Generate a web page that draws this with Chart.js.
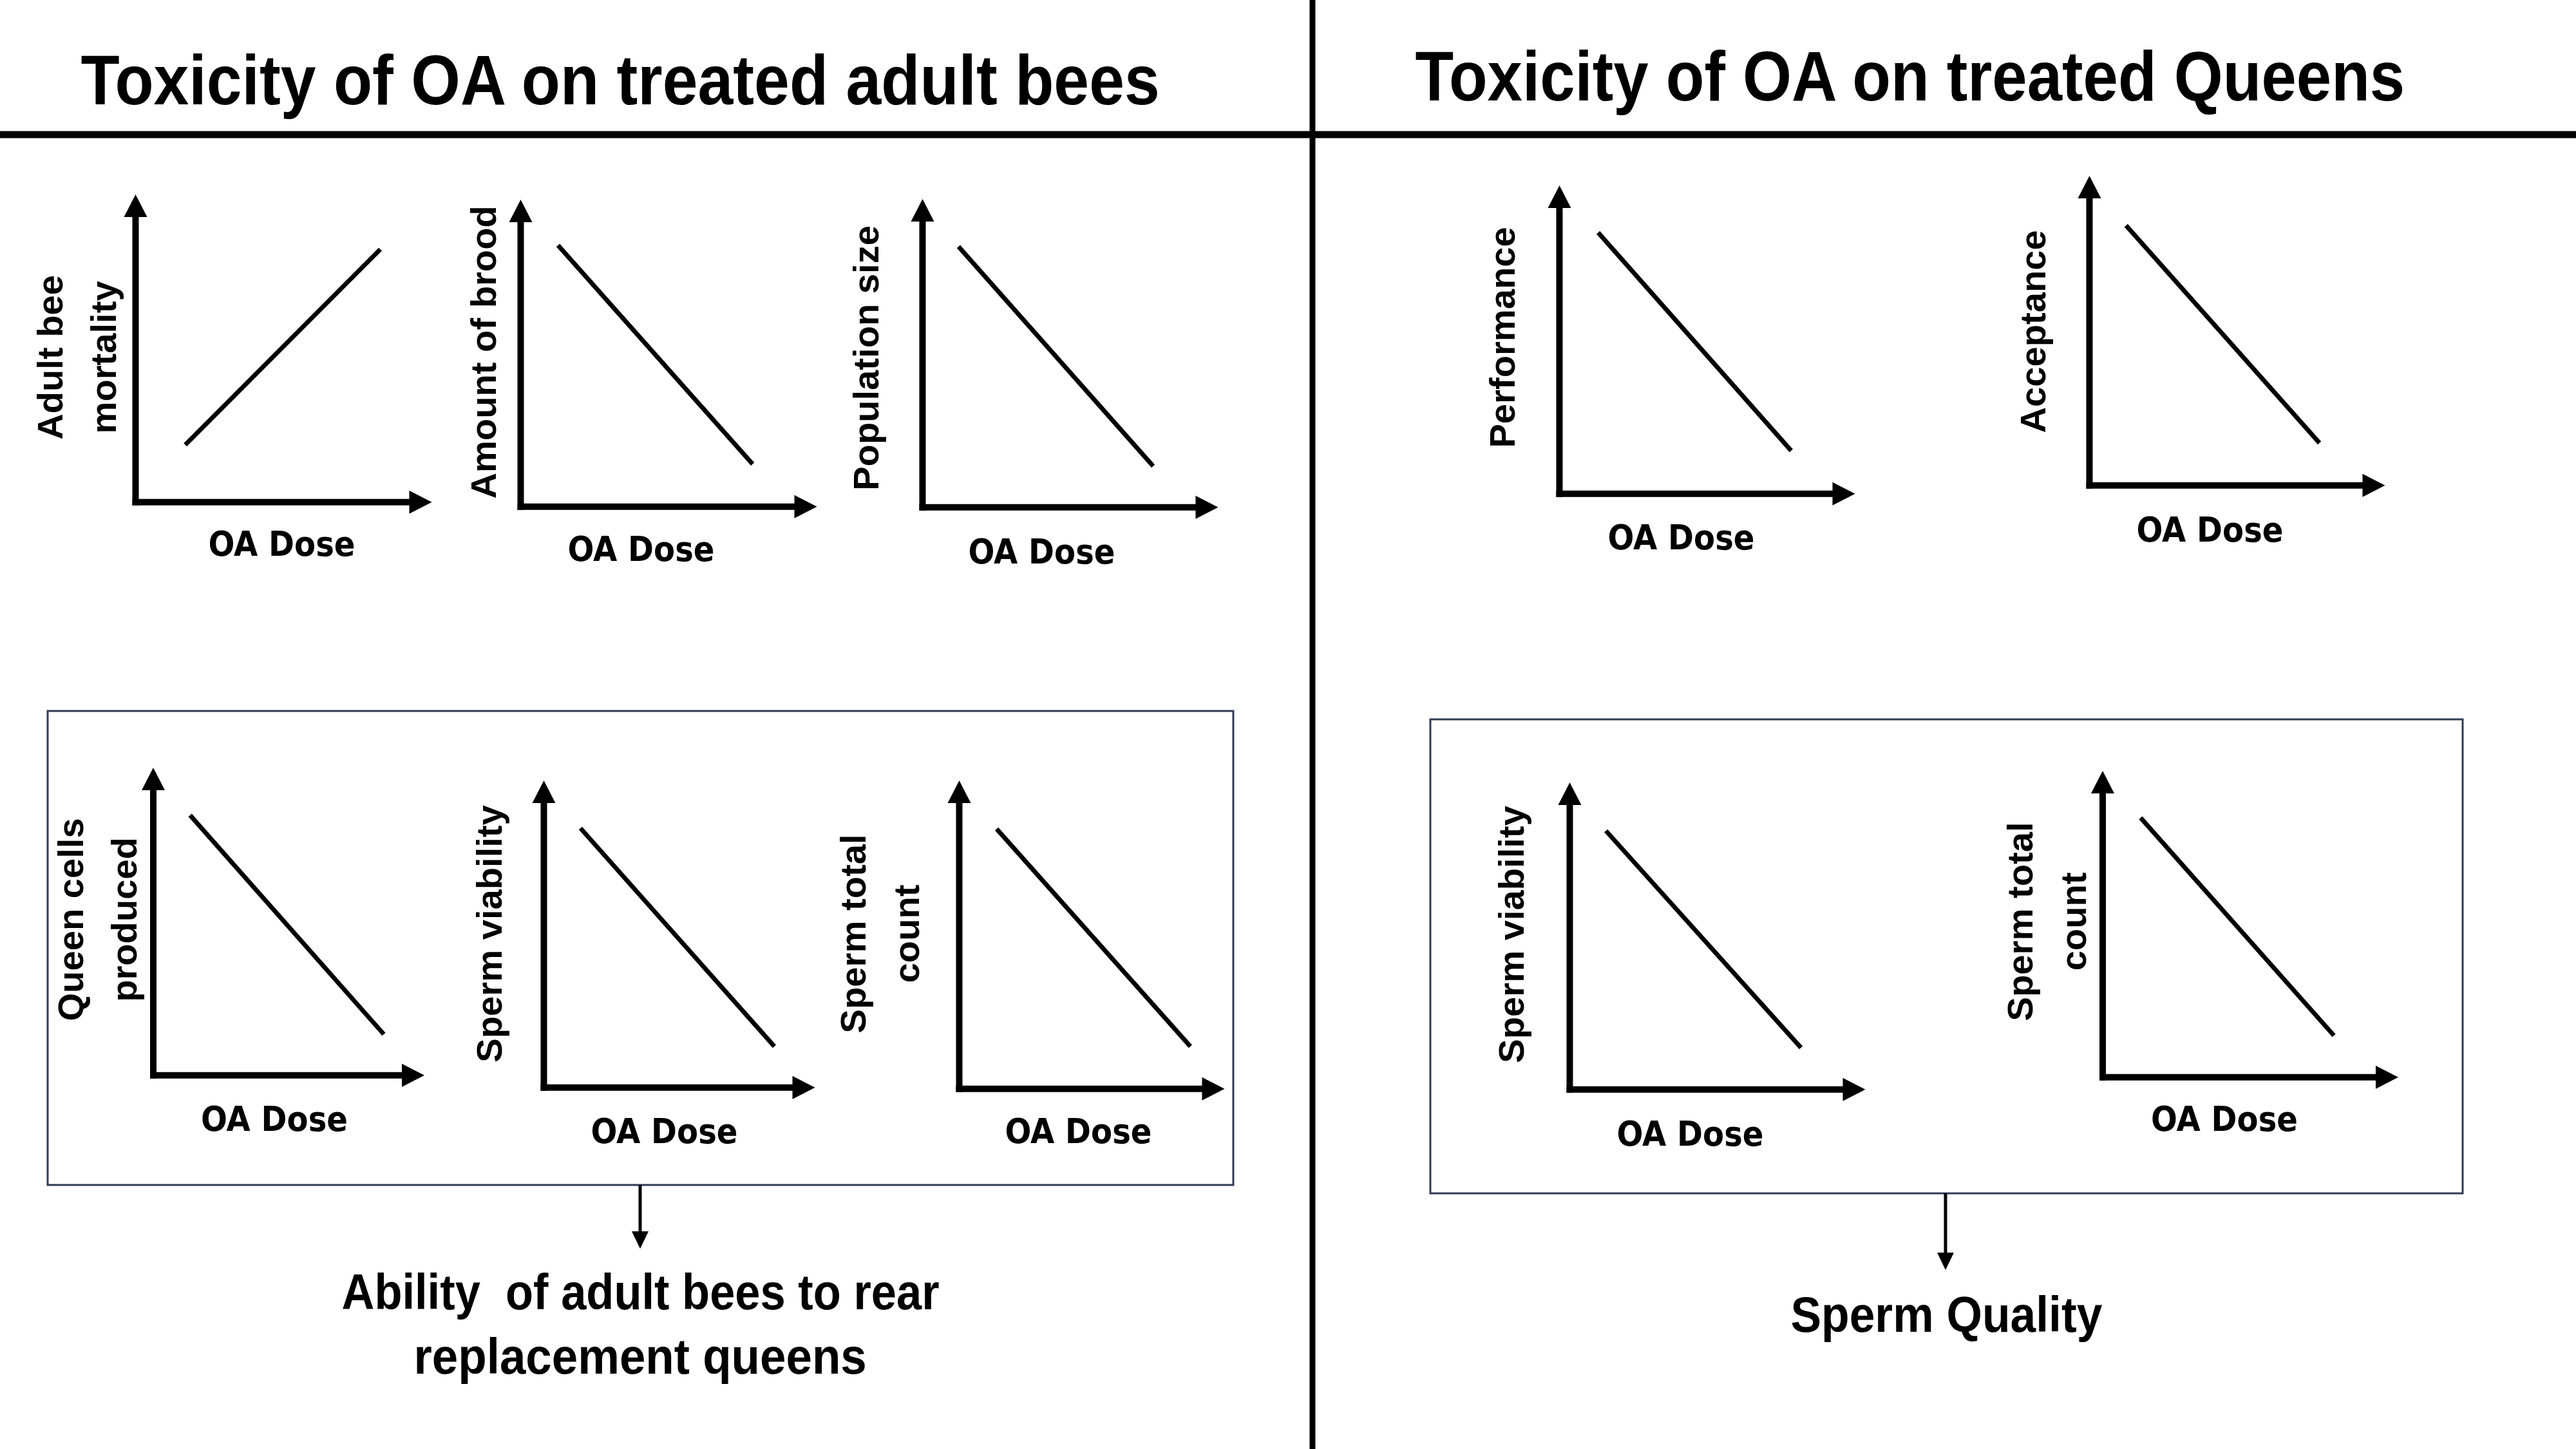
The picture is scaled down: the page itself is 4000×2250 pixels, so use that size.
<!DOCTYPE html>
<html>
<head>
<meta charset="utf-8">
<script src="https://cdn.jsdelivr.net/npm/chart.js@4.4.1/dist/chart.umd.min.js"></script>
<style>
  html, body { margin: 0; padding: 0; background: #fff; }
  #page { position: relative; width: 4000px; height: 2250px; overflow: hidden; background: #fff; }
  #page canvas { position: absolute; }
  .txt {
    position: absolute; white-space: pre; line-height: 1; color: #000;
    font-family: "Liberation Sans", Arial, sans-serif; font-weight: bold;
    transform-origin: 50% 50%;
  }
</style>
</head>
<body>
<div id="page">
  <svg width="4000" height="2250" style="position:absolute;left:0;top:0">
    <line x1="2038" y1="0" x2="2038" y2="2250" stroke="#000" stroke-width="9"/>
    <line x1="0" y1="209" x2="4000" y2="209" stroke="#000" stroke-width="11"/>
    <rect x="74" y="1104" width="1841" height="736" fill="none" stroke="#2f3c55" stroke-width="3"/>
    <rect x="2221" y="1117" width="1603" height="736" fill="none" stroke="#2f3c55" stroke-width="3"/>
    <line x1="994" y1="1840" x2="994" y2="1914" stroke="#000" stroke-width="5"/>
    <polygon points="981,1912 1007,1912 994,1939" fill="#000"/>
    <line x1="3021" y1="1853" x2="3021" y2="1947" stroke="#000" stroke-width="5"/>
    <polygon points="3008,1945 3034,1945 3021,1972" fill="#000"/>
  </svg>
</div>
<script>
// what is plotted in each small panel (left block first, then the queens block)
const doseAxisTitle = "OA Dose";
const effectTitles = [
  ["Adult bee", "mortality"], "Amount of brood", "Population size",
  ["Queen cells", "produced"], "Sperm viability", ["Sperm total", "count"],
  "Performance", "Acceptance",
  "Sperm viability", ["Sperm total", "count"]
];
// two ends of each trend line, on a 0-10 scale
const doseLow      = [1.70, 1.55, 1.51, 1.52, 1.52, 1.57, 1.59, 1.52, 1.50, 1.56];
const doseHigh     = [8.37, 9.63, 9.68, 9.52, 9.57, 9.70, 9.52, 9.55, 9.60, 9.50];
const effectAtLow  = [1.98, 8.46, 8.73, 8.35, 8.43, 8.38, 8.35, 8.45, 8.34, 8.33];
const effectAtHigh = [8.73, 1.38, 1.38, 1.32, 1.34, 1.37, 1.38, 1.38, 1.35, 1.34];

// where each panel sits on the page (axis origin, arrow tips, title centres)
const panels = [
  {ox: 210,  oy: 780,  xt: 670,  yt: 302,  xlx: 437,  xly: 849,  ylx: 81,   yly: 555},
  {ox: 808,  oy: 787,  xt: 1268, yt: 310,  xlx: 995,  xly: 857,  ylx: 754,  yly: 547},
  {ox: 1432, oy: 788,  xt: 1891, yt: 309,  xlx: 1617, xly: 861,  ylx: 1348, yly: 556},
  {ox: 238,  oy: 1670, xt: 659,  yt: 1192, xlx: 426,  xly: 1742, ylx: 114,  yly: 1428},
  {ox: 844,  oy: 1689, xt: 1265, yt: 1212, xlx: 1031, xly: 1761, ylx: 763,  yly: 1450},
  {ox: 1489, oy: 1691, xt: 1901, yt: 1212, xlx: 1674, xly: 1761, ylx: 1328, yly: 1450},
  {ox: 2421, oy: 767,  xt: 2880, yt: 288,  xlx: 2610, xly: 839,  ylx: 2336, yly: 524},
  {ox: 3244, oy: 754,  xt: 3703, yt: 273,  xlx: 3431, xly: 827,  ylx: 3160, yly: 515},
  {ox: 2437, oy: 1692, xt: 2896, yt: 1215, xlx: 2624, xly: 1765, ylx: 2350, yly: 1451},
  {ox: 3265, oy: 1673, xt: 3724, yt: 1197, xlx: 3454, xly: 1742, ylx: 3141, yly: 1431}
];

const YFONT = "'Liberation Sans', Arial, sans-serif";
const XFONT = "'DejaVu Sans Condensed', 'Liberation Sans', sans-serif";

// pick a font size so a sample string spans the length it has in the figure
const measureCtx = document.createElement("canvas").getContext("2d");
function fitSize(text, family, target) {
  measureCtx.font = "bold 100px " + family;
  return 100 * target / measureCtx.measureText(text).width;
}

// axis lines with arrow heads
const axisArrows = {
  id: "axisArrows",
  afterDraw(chart, args, opts) {
    const {ctx, chartArea: a} = chart;
    const xTip = a.right + opts.xOver;
    const yTip = a.top - opts.yOver;
    const w = opts.width, h = opts.head, s = opts.half;
    ctx.save();
    ctx.strokeStyle = ctx.fillStyle = opts.color;
    ctx.lineWidth = w;
    ctx.lineCap = "butt";
    ctx.beginPath();
    ctx.moveTo(a.left, a.bottom + w / 2);
    ctx.lineTo(a.left, yTip + h - 1);
    ctx.stroke();
    ctx.beginPath();
    ctx.moveTo(a.left - w / 2, a.bottom);
    ctx.lineTo(xTip - h + 1, a.bottom);
    ctx.stroke();
    ctx.beginPath();
    ctx.moveTo(a.left, yTip);
    ctx.lineTo(a.left - s, yTip + h);
    ctx.lineTo(a.left + s, yTip + h);
    ctx.closePath();
    ctx.fill();
    ctx.beginPath();
    ctx.moveTo(xTip, a.bottom);
    ctx.lineTo(xTip - h, a.bottom - s);
    ctx.lineTo(xTip - h, a.bottom + s);
    ctx.closePath();
    ctx.fill();
    ctx.restore();
  }
};

function makePanel(i, ySize, xSize) {
  const p = panels[i];
  const title = effectTitles[i];
  const nLines = Array.isArray(title) ? title.length : 1;
  const L = 83;                 // spacing between the two lines of a y title
  const yLH = L / ySize;
  const xLH = 1.2, Lx = xSize * xLH;

  const right = 2 * p.xlx - p.ox;
  const top = 2 * p.yly - p.oy;
  const yPadBottom = Math.max(0, p.ox - (p.ylx - L / 2) - nLines * L);
  const left = p.ox - nLines * L - yPadBottom;
  const xPadTop = p.xly - p.oy - Lx / 2;

  const cTop = Math.min(top, p.yt) - 14;
  const cRight = p.xt + 14;
  const cBottom = p.oy + Lx + xPadTop + 10;

  const canvas = document.createElement("canvas");
  const W = Math.round(cRight - left), H = Math.round(cBottom - cTop);
  canvas.width = W;
  canvas.height = H;
  canvas.style.left = left + "px";
  canvas.style.top = cTop + "px";
  canvas.style.width = W + "px";
  canvas.style.height = H + "px";
  document.getElementById("page").appendChild(canvas);

  new Chart(canvas, {
    type: "line",
    data: {
      datasets: [{
        data: [{x: doseLow[i], y: effectAtLow[i]}, {x: doseHigh[i], y: effectAtHigh[i]}],
        borderColor: "#000",
        borderWidth: 7,
        pointRadius: 0,
        fill: false,
        tension: 0
      }]
    },
    options: {
      responsive: false,
      animation: false,
      events: [],
      layout: {
        padding: {left: 0, top: top - cTop, right: (left + W) - right, bottom: 10}
      },
      plugins: {
        legend: {display: false},
        tooltip: {enabled: false},
        axisArrows: {xOver: p.xt - right, yOver: top - p.yt, width: 10, head: 35, half: 18, color: "#000"}
      },
      scales: {
        x: {
          type: "linear", min: 0, max: 10,
          grid: {display: false, drawTicks: false},
          border: {display: false},
          ticks: {display: false},
          title: {
            display: true, text: doseAxisTitle, color: "#000",
            font: {family: XFONT, size: xSize, weight: "bold", lineHeight: xLH},
            padding: {top: xPadTop, bottom: 0}
          }
        },
        y: {
          type: "linear", min: 0, max: 10,
          grid: {display: false, drawTicks: false},
          border: {display: false},
          ticks: {display: false},
          title: {
            display: true, text: title, color: "#000",
            font: {family: YFONT, size: ySize, weight: "bold", lineHeight: yLH},
            padding: {top: 0, bottom: yPadBottom}
          }
        }
      }
    },
    plugins: [axisArrows]
  });
}

// headings and captions, squeezed to the width they take in the figure
const texts = [
  {t: "Toxicity of OA on treated adult bees", cx: 963,  base: 162,  size: 110, w: 1675},
  {t: "Toxicity of OA on treated Queens",     cx: 2966, base: 156,  size: 110, w: 1537},
  {t: "Ability  of adult bees to rear",       cx: 994,  base: 2033, size: 78,  w: 928},
  {t: "replacement queens",                   cx: 994,  base: 2133, size: 78,  w: 703},
  {t: "Sperm Quality",                        cx: 3022, base: 2068, size: 78,  w: 484}
];

function placeTexts() {
  const page = document.getElementById("page");
  texts.forEach(d => {
    const el = document.createElement("div");
    el.className = "txt";
    el.textContent = d.t;
    el.style.fontSize = d.size + "px";
    page.appendChild(el);
    const w = el.offsetWidth;
    el.style.left = (d.cx - w / 2) + "px";
    el.style.top = (d.base - 0.8465 * d.size) + "px";
    el.style.transform = "scaleX(" + (d.w / w) + ")";
  });
}

document.fonts.ready.then(() => {
  placeTexts();
  const ySize = fitSize("Population size", YFONT, 412);
  const xSize = fitSize(doseAxisTitle, XFONT, 228);
  for (let i = 0; i < panels.length; i++) makePanel(i, ySize, xSize);
});
</script>
</body>
</html>
